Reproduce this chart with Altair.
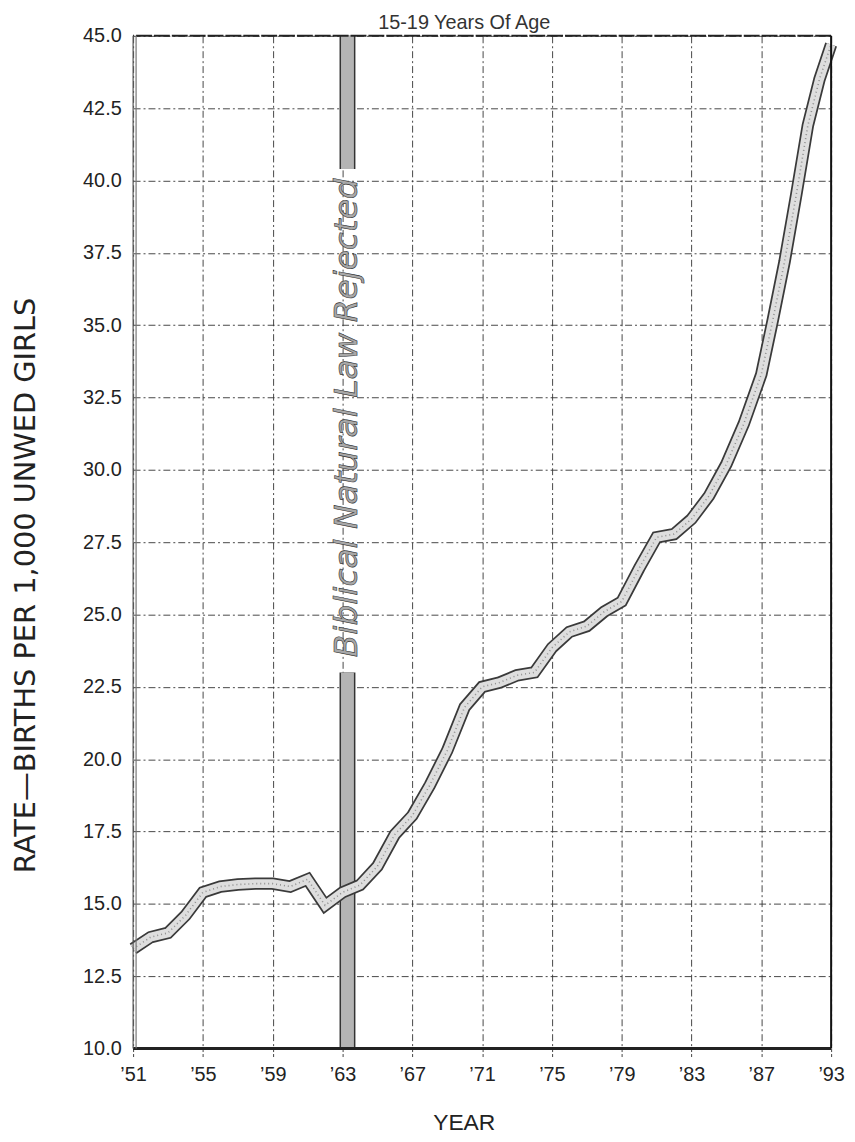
import altair as alt
import pandas as pd

# ---- data ----
years = list(range(1951, 1994))
rates = [13.45, 13.85, 14.0, 14.6, 15.4, 15.6, 15.67, 15.7, 15.7, 15.6,
         15.85, 14.95, 15.4, 15.65, 16.3, 17.4, 18.05, 19.1, 20.3, 21.8,
         22.5, 22.65, 22.9, 23.0, 23.85, 24.4, 24.6, 25.1, 25.45, 26.6,
         27.67, 27.78, 28.3, 29.1, 30.2, 31.6, 33.3, 35.2, 37.2, 39.5,
         41.9, 43.5, 44.7]

event_year = [1963, 1963]
event_seg_low = [40.4, 10.0]
event_seg_high = [45.0, 23.0]
event_text = "Biblical Natural Law Rejected"
event_text_y = 31.8

x_tick_values = list(range(1951, 1988, 2)) + [1990, 1993]
y_tick_values = [10 + 2.5 * i for i in range(15)]

title_text = "15-19 Years Of Age"
y_title = "RATE\u2014BIRTHS PER 1,000 UNWED GIRLS"
x_title = "YEAR"

# ---- chart ----
W, H = 703, 1020
FONT = "Liberation Sans"
WIDE = "DejaVu Sans"

df = pd.DataFrame({"year": years, "rate": rates})
band_df = pd.DataFrame({"year": event_year, "lo": event_seg_low, "hi": event_seg_high})
text_df = pd.DataFrame({"year": [event_year[0]], "y": [event_text_y], "label": [event_text]})
title_df = pd.DataFrame({"t": [title_text]})
top_df = pd.DataFrame({"v": [45.0]})
bottom_df = pd.DataFrame({"v": [10.0]})

x_scale = alt.Scale(domain=[1951, 1987, 1993], range=[0, W * 36 / 40, W], nice=False, zero=False)
y_scale = alt.Scale(domain=[10, 45], nice=False, zero=False)

label_expr = ("(datum.value % 4 == 3 || datum.value == 1993) ? "
              "'\u2019' + substring(toString(datum.value), 2, 4) : ''")

x_enc = alt.X("year:Q", scale=x_scale,
              axis=alt.Axis(values=x_tick_values, labelExpr=label_expr, title=x_title,
                            grid=True, gridColor="#333", gridDash=[7, 3, 2, 3], gridWidth=1,
                            gridOpacity=0.9,
                            ticks=True, tickSize=10, tickColor="#444", tickDash=[3, 2],
                            domain=False, labelFlush=False, labelOverlap=False,
                            labelFont=FONT, labelFontSize=20, labelColor="#222",
                            labelPadding=6,
                            titleFont=FONT, titleFontSize=23, titleFontWeight="normal",
                            titleColor="#222", titleX=333, titleY=75,
                            titleBaseline="middle"))
y_enc = alt.Y("rate:Q", scale=y_scale,
              axis=alt.Axis(values=y_tick_values, format=".1f", title=y_title,
                            grid=True, gridColor="#333", gridDash=[7, 3, 2, 3], gridWidth=1,
                            gridOpacity=0.9,
                            ticks=False, domain=False,
                            labelFont=FONT, labelFontSize=20, labelColor="#222",
                            labelPadding=12,
                            titleFont=WIDE, titleFontSize=29, titleFontWeight="normal",
                            titleColor="#222", titleX=-108, titleY=553,
                            titleBaseline="middle"))

base = alt.Chart(df)
line_outline = base.mark_line(color="#3a3a3a", strokeWidth=12.5).encode(x=x_enc, y=y_enc)
line_fill = base.mark_line(color="#dedede", strokeWidth=9).encode(
    x=alt.X("year:Q", scale=x_scale), y=alt.Y("rate:Q", scale=y_scale))
line_dots = base.mark_line(color="#8f8f8f", strokeWidth=1.6, strokeDash=[1, 3]).encode(
    x=alt.X("year:Q", scale=x_scale), y=alt.Y("rate:Q", scale=y_scale))

band_outline = alt.Chart(band_df).mark_rule(color="#333", strokeWidth=16, xOffset=5).encode(
    x=alt.X("year:Q", scale=x_scale), y=alt.Y("lo:Q", scale=y_scale), y2="hi:Q")
band_fill = alt.Chart(band_df).mark_rule(color="#b4b4b4", strokeWidth=13, xOffset=5).encode(
    x=alt.X("year:Q", scale=x_scale), y=alt.Y("lo:Q", scale=y_scale), y2="hi:Q")

band_label = alt.Chart(text_df).mark_text(
    angle=270, font=WIDE, fontStyle="italic", fontSize=33, fill="#a8a8a8",
    stroke="#333", strokeWidth=0.6, align="center", baseline="middle", xOffset=5
).encode(x=alt.X("year:Q", scale=x_scale), y=alt.Y("y:Q", scale=y_scale), text="label:N")

chart_title = alt.Chart(title_df).mark_text(
    font=FONT, fontSize=20, color="#333", align="center", baseline="alphabetic"
).encode(x=alt.value(W / 2 - 18), y=alt.value(-7), text="t:N")

top_border = alt.Chart(top_df).mark_rule(color="#222", strokeWidth=2, strokeDash=[16, 2]).encode(
    y=alt.Y("v:Q", scale=y_scale))
bottom_border = alt.Chart(bottom_df).mark_rule(color="#222", strokeWidth=3).encode(
    y=alt.Y("v:Q", scale=y_scale))
right_border = alt.Chart(top_df).mark_rule(color="#111", strokeWidth=2).encode(x=alt.value(W))
left_border1 = alt.Chart(top_df).mark_rule(color="#555", strokeWidth=1.2).encode(x=alt.value(0))
left_border2 = alt.Chart(top_df).mark_rule(color="#777", strokeWidth=1.2).encode(x=alt.value(3))

chart = alt.layer(
    band_outline, band_fill, band_label,
    line_outline, line_fill, line_dots,
    top_border, bottom_border, right_border, left_border1, left_border2,
    chart_title,
).properties(
    width=W, height=H,
    autosize=alt.AutoSizeParams(type="none"),
    padding={"left": 126, "top": 24, "right": 16, "bottom": 82},
).configure_view(stroke=None)

chart.save("out.html", embed_options={"renderer": "svg", "actions": False})
